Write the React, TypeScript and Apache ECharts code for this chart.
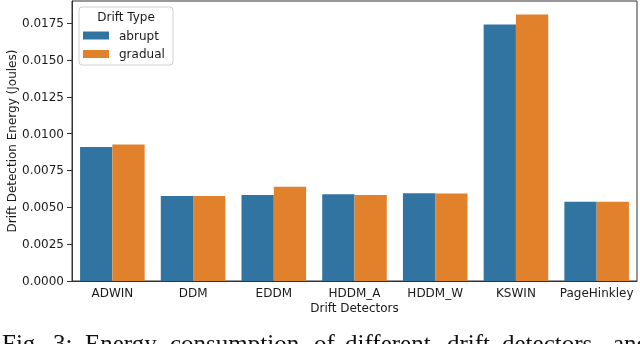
import React, { useEffect, useRef } from "react";
import * as echarts from "echarts";

const categories = ["ADWIN", "DDM", "EDDM", "HDDM_A", "HDDM_W", "KSWIN", "PageHinkley"];
const abrupt = [0.0091, 0.00576, 0.00583, 0.00589, 0.00596, 0.01741, 0.00537];
const gradual = [0.00926, 0.00576, 0.00639, 0.00583, 0.00594, 0.01809, 0.00537];
const seriesNames = ["abrupt", "gradual"];
const captionWords = ["Fig.", "3:", "Energy", "consumption", "of", "different", "drift", "detectors", "and"];
const captionX = [2, 53, 85, 170, 314, 345, 447, 502, 613];

export default function App() {
  const ref = useRef<HTMLDivElement>(null);
  useEffect(() => {
    document.body.style.margin = "0";
    const chart = echarts.init(ref.current!, null, { renderer: "svg" });
    const font = "DejaVu Sans";
    const fs = 12;
    const txt = "#1a1a1a";
    chart.setOption({
      animation: false,
      textStyle: { fontFamily: font },
      grid: {
        left: 72,
        right: 3,
        top: 1,
        bottom: 63,
        outerBoundsMode: "none",
        containLabel: false,
        show: true,
        borderColor: "#333",
        borderWidth: 1,
        backgroundColor: "transparent",
      },
      xAxis: {
        type: "category",
        data: categories,
        name: "Drift Detectors",
        nameLocation: "middle",
        nameGap: 21,
        nameMoveOverlap: false,
        nameTextStyle: { fontSize: fs, color: txt, fontFamily: font },
        axisLine: { lineStyle: { color: "#333", width: 1 } },
        axisTick: { alignWithLabel: true, length: 5, lineStyle: { color: "#333" } },
        axisLabel: { fontSize: fs, color: txt, margin: 6, fontFamily: font, interval: 0 },
      },
      yAxis: {
        type: "value",
        min: 0,
        max: 0.019,
        interval: 0.0025,
        name: "Drift Detection Energy (Joules)",
        nameLocation: "middle",
        nameGap: 54,
        nameMoveOverlap: false,
        nameTextStyle: { fontSize: fs, color: txt, fontFamily: font },
        splitLine: { show: false },
        axisLine: { show: true, lineStyle: { color: "#333", width: 1 } },
        axisTick: { show: true, length: 5, lineStyle: { color: "#333" } },
        axisLabel: {
          fontSize: fs,
          color: txt,
          margin: 8,
          fontFamily: font,
          showMaxLabel: false,
          formatter: (v: number) => v.toFixed(4),
        },
      },
      legend: {
        orient: "vertical",
        left: 83,
        top: 29.5,
        padding: 0,
        itemWidth: 26,
        itemHeight: 8,
        itemGap: 6.5,
        icon: "rect",
        data: seriesNames,
        textStyle: { fontSize: fs, color: txt, fontFamily: font, padding: [0, 0, 0, 5] },
      },
      graphic: [
        {
          type: "rect",
          shape: { x: 79, y: 7, width: 94, height: 58, r: 3 },
          style: { fill: "rgba(255,255,255,0.8)", stroke: "#d0d0d0", lineWidth: 1 },
          z: 0,
        },
        {
          type: "text",
          x: 126,
          y: 17,
          style: { text: "Drift Type", fontSize: fs, fontFamily: font, fill: txt, align: "center", verticalAlign: "middle" },
        },
        ...captionWords.map((w, i) => ({
          type: "text",
          x: captionX[i],
          y: 343,
          style: { text: w, fontSize: 25, fontFamily: "Liberation Serif", fill: "#111", align: "left", verticalAlign: "middle" },
        })),
      ],
      series: [
        { name: seriesNames[0], type: "bar", data: abrupt, barGap: "0%", barCategoryGap: "20%", itemStyle: { color: "#3274a1" } },
        { name: seriesNames[1], type: "bar", data: gradual, barGap: "0%", barCategoryGap: "20%", itemStyle: { color: "#e1812c" } },
      ],
    });
    return () => chart.dispose();
  }, []);
  return <div ref={ref} style={{ position: "fixed", left: 0, top: 0, width: 640, height: 344 }} />;
}
